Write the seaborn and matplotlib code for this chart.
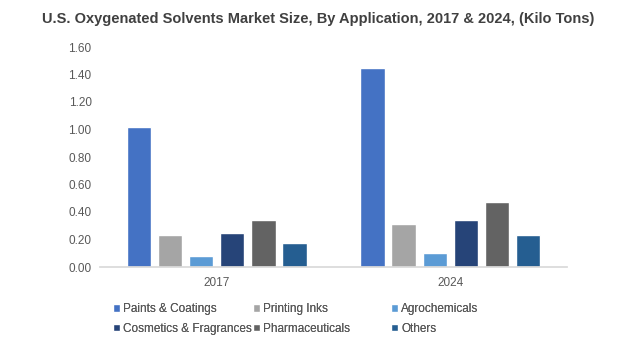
import pandas as pd
import seaborn as sns
import matplotlib.pyplot as plt

years = ["2017", "2024"]
applications = [
    "Paints & Coatings",
    "Printing Inks",
    "Agrochemicals",
    "Cosmetics & Fragrances",
    "Pharmaceuticals",
    "Others",
]
values_2017 = [1.02, 0.23, 0.08, 0.25, 0.34, 0.175]
values_2024 = [1.45, 0.31, 0.10, 0.34, 0.475, 0.23]
colors = ["#4472C4", "#A5A5A5", "#5B9BD5", "#264478", "#636363", "#255E91"]

df = pd.DataFrame({
    "year": [years[0]] * len(applications) + [years[1]] * len(applications),
    "application": applications * 2,
    "value": values_2017 + values_2024,
})

sns.set_theme(style="white")
plt.rcParams["font.family"] = ["Liberation Sans", "DejaVu Sans"]

fig = plt.figure(figsize=(6.36, 3.58), dpi=100)
ax = fig.add_axes([100 / 636, 1 - 267 / 358, 467 / 636, 220 / 358])

sns.barplot(
    data=df, x="year", y="value", hue="application",
    hue_order=applications, palette=colors,
    width=0.8, gap=0.22, saturation=1, ax=ax, legend=True,
)

ax.set_ylim(0, 1.6)
ax.set_yticks([i * 0.2 for i in range(9)])
ax.set_yticklabels([f"{i * 0.2:.2f}" for i in range(9)])
ax.set_xlabel("")
ax.set_ylabel("")
ax.tick_params(axis="both", labelsize=8.5, colors="#595959", length=0)
ax.tick_params(axis="x", pad=7)
ax.tick_params(axis="y", pad=6)
sns.despine(ax=ax, left=True)
ax.spines["bottom"].set_color("#D9D9D9")

fig.text(0.5, 1 - 19 / 358, "U.S. Oxygenated Solvents Market Size, By Application, 2017 & 2024, (Kilo Tons)",
         ha="center", va="center", fontsize=10.5, fontweight="bold", color="#404040")

# legend laid out row by row in three columns, like the original
handles, labels = ax.get_legend_handles_labels()
ax.get_legend().remove()
col_x = [113, 253, 391]
for c, x in enumerate(col_x):
    leg = fig.legend(
        [handles[c], handles[c + 3]], [labels[c], labels[c + 3]],
        loc="upper left", bbox_to_anchor=(x / 636, 1 - 303 / 358),
        frameon=False, fontsize=8.5, handlelength=0.6, handleheight=0.6,
        handletextpad=0.25, labelspacing=0.65, labelcolor="#595959",
        borderaxespad=0, borderpad=0,
    )
    fig.add_artist(leg)

fig.savefig("out.png", dpi=100)
